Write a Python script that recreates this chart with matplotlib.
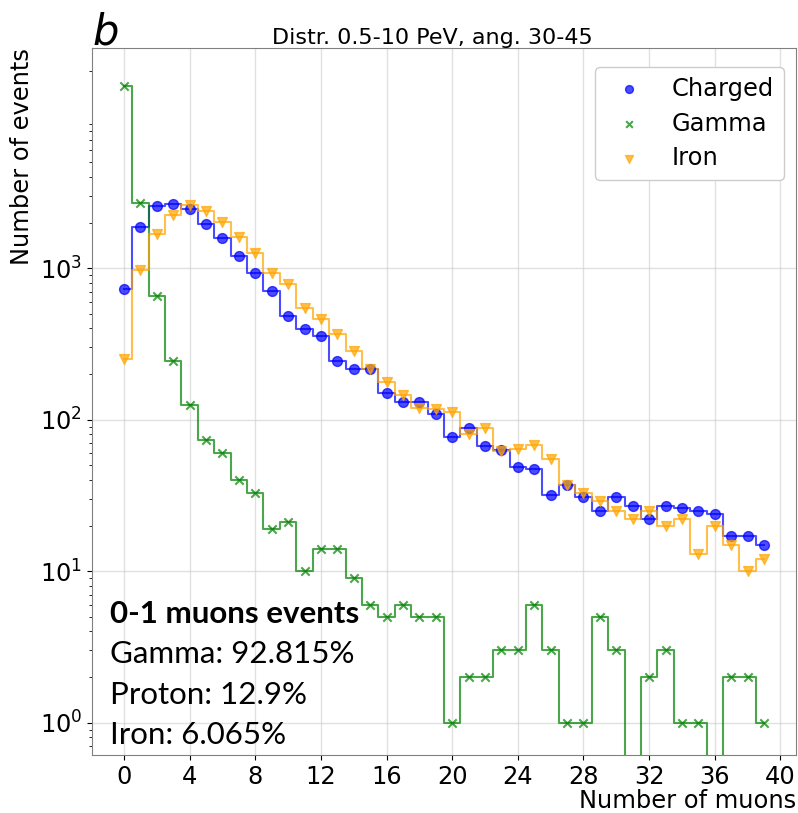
import numpy as np
import matplotlib
matplotlib.use('Agg')
import matplotlib.pyplot as plt

# number of muons per event (bins)
muons = np.arange(40)

charged = [729, 1862, 2574, 2640, 2448, 1958, 1589, 1204, 926, 710,
           482, 395, 358, 244, 216, 216, 150, 131, 130, 109,
           77, 88, 67, 63, 49, 47, 32, 37, 31, 25,
           31, 27, 22, 27, 26, 25, 24, 17, 17, 15]
gamma = [15950, 2706, 656, 245, 125, 74, 60, 40, 33, 19,
         21, 10, 14, 14, 9, 6, 5, 6, 5, 5,
         1, 2, 2, 3, 3, 6, 3, 1, 1, 5,
         3, 0, 2, 3, 1, 1, 0, 2, 2, 1]
iron = [250, 973, 1682, 2234, 2625, 2397, 2028, 1615, 1266, 934,
        783, 543, 460, 366, 285, 215, 178, 146, 119, 118,
        113, 81, 88, 62, 64, 68, 55, 37, 33, 29,
        25, 22, 25, 20, 22, 13, 20, 15, 10, 12]

series = [('Charged', charged, 'blue', 'o'),
          ('Gamma', gamma, 'green', 'x'),
          ('Iron', iron, 'orange', 'v')]

title = 'Distr. 0.5-10 PeV, ang. 30-45'
info_head = '0-1 muons events'
info_lines = ['Gamma: 92.815%', 'Proton: 12.9%', 'Iron: 6.065%']

fs = 17.4
fig = plt.figure(figsize=(7.98, 8.13), dpi=100)
ax = fig.add_axes([0.1153, 0.0713, 0.8822, 0.8697])

for name, vals, col, mk in series:
    ax.step(muons, vals, where='mid', color=col, alpha=0.7, lw=1.5)
    if mk == 'x':
        ax.scatter(muons, vals, color=col, marker=mk, s=36, alpha=0.7, label=name, zorder=3)
    else:
        ax.scatter(muons, vals, color=col, marker=mk, s=50, alpha=0.7, label=name, zorder=3)

ax.set_yscale('log')
ax.set_xlim(-1.95, 40.95)
ax.set_ylim(0.612, 28400)
ax.set_xticks(np.arange(0, 41, 4))
ax.set_yticks([1, 10, 100, 1000])
ax.grid(True, color='#cccccc', alpha=0.6, lw=1)
ax.tick_params(labelsize=fs)
for sp in ax.spines.values():
    sp.set_color('#808080')

ax.set_xlabel('Number of muons', fontsize=fs, loc='right', labelpad=0)
ax.set_ylabel('Number of events', fontsize=fs, loc='top')

ax.text(0.0, 1.005, 'b', transform=ax.transAxes, fontsize=30, style='italic',
        va='baseline', ha='left')
ax.text(0.2557, 1.006, title, transform=ax.transAxes, fontsize=16,
        va='baseline', ha='left')

ax.legend(loc='upper right', bbox_to_anchor=(0.983, 0.973), borderaxespad=0,
          fontsize=fs, labelspacing=0.45, markerscale=0.8, framealpha=1)

ax.text(0.0256, 0.187, info_head, transform=ax.transAxes, family='Lato',
        fontsize=22.5, fontweight='bold', va='baseline')
for i, line in enumerate(info_lines):
    ax.text(0.0256, 0.130 - i * 0.0575, line, transform=ax.transAxes,
            family='Lato', fontsize=22.5, va='baseline')

fig.savefig('out.png', dpi=100)
